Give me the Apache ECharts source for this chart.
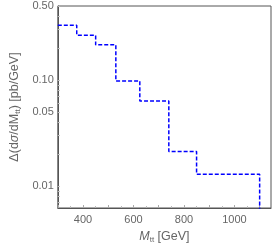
<!DOCTYPE html>
<html><head><meta charset="utf-8">
<script src="https://cdn.jsdelivr.net/npm/echarts@6/dist/echarts.min.js"></script>
<style>html,body{margin:0;padding:0;background:#fff}#c{width:274px;height:249px}</style>
</head><body><div id="c"></div>
<script>
// Bin edges (GeV) and step values (pb/GeV)
const binEdges = [300, 375, 450, 530, 625, 740, 850, 1100];
const binValues = [0.329, 0.265, 0.215, 0.098, 0.0634, 0.0212, 0.0129];
const xTickLabels = [400, 600, 800, 1000];
const yTickLabels = [0.01, 0.05, 0.10, 0.50];
const yMinorTicks = [0.007,0.008,0.009,0.01,0.02,0.03,0.04,0.05,0.06,0.07,0.08,0.09,0.1,0.2,0.3,0.4,0.5];

const pts = [];
for (let i = 0; i < binValues.length; i++) {
  pts.push([binEdges[i], binValues[i]]);
  pts.push([binEdges[i+1], binValues[i]]);
}
pts.push([binEdges[binEdges.length-1], 0.001]);

const gray = '#666';
const font = 'Liberation Sans, Arial, sans-serif';
const chart = echarts.init(document.getElementById('c'), null, {renderer:'canvas'});
chart.setOption({
  animation: false,
  grid: {left: 41.5, right: 2.5, top: 6, bottom: 36, show: true, borderColor: '#555', borderWidth: 1},
  xAxis: {
    type: 'value', min: 300, max: 1145, interval: 100,
    axisLine: {show: true, onZero: false, lineStyle: {color: '#555'}},
    axisTick: {show: true, inside: true, length: 3, lineStyle: {color: '#aaa'}},
    minorTick: {show: true, splitNumber: 2, length: 2, lineStyle: {color: '#bbb'}},
    splitLine: {show: false},
    axisLabel: {color: gray, fontFamily: font, fontSize: 11, margin: 6,
      formatter: v => xTickLabels.includes(v) ? String(v) : ''},
    name: '{i|M}{s|tt} [GeV]', nameLocation: 'middle', nameGap: 22,
    nameTextStyle: {color: gray, fontFamily: font, fontSize: 12.5,
      rich: {i: {fontStyle: 'italic', fontSize: 12.5, color: gray, fontFamily: font},
             s: {fontSize: 8, color: gray, fontFamily: font, padding: [6,0,0,0]}}}
  },
  yAxis: {
    type: 'log', logBase: 10, min: 0.0062, max: 0.5,
    axisLine: {show: true, lineStyle: {color: '#555'}},
    axisTick: {show: true, inside: true, length: 2, customValues: yMinorTicks, lineStyle: {color: '#bbb'}},
    splitLine: {show: false},
    axisLabel: {color: gray, fontFamily: font, fontSize: 11, margin: 4, customValues: yTickLabels,
      formatter: v => Number(v).toFixed(2)},
    name: 'Δ(d{i|σ}/dM{s|tt}) [pb/GeV]', nameLocation: 'middle', nameGap: 26,
    nameTextStyle: {color: gray, fontFamily: font, fontSize: 12.5,
      rich: {i: {fontStyle: 'italic', fontSize: 12.5, color: gray, fontFamily: font},
             s: {fontSize: 8, color: gray, fontFamily: font, padding: [6,0,0,0]}}}
  },
  series: [{
    type: 'line', data: pts, symbol: 'none', clip: true,
    lineStyle: {color: '#0000ff', width: 1.5, type: [4, 2]}
  }]
});
</script></body></html>
